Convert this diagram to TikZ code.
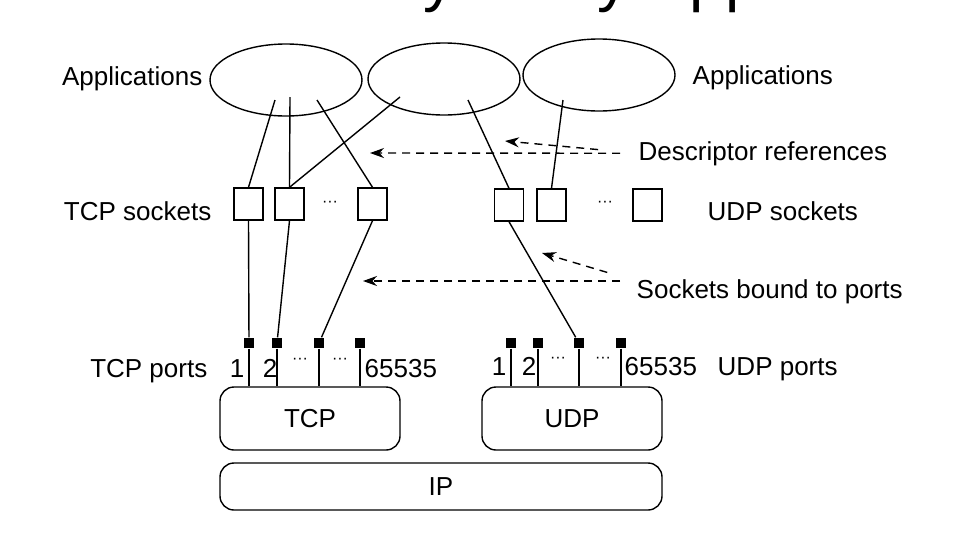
\documentclass[tikz,border=0pt]{standalone}
\usepackage{fontspec}
\setmainfont{Liberation Sans}
\usetikzlibrary{arrows.meta,shapes.geometric}

\begin{document}
\begin{tikzpicture}[x=1pt, y=-1pt, line width=1.4pt, >={Stealth[length=14pt, width=10pt]}, font=\fontsize{26}{30}\selectfont]
	\tikzstyle{app}=[ellipse, draw=black, minimum width=152pt, minimum height=72pt, inner sep=0pt]
	\tikzstyle{socket}=[rectangle, draw=black, minimum width=29pt, minimum height=32pt, inner sep=0pt]
	\tikzstyle{pin}=[rectangle, fill=black, minimum size=10pt, inner sep=0pt]
	\tikzstyle{layer}=[rectangle, draw=black, rounded corners=14pt, inner sep=0pt]
	\tikzstyle{txt}=[inner sep=0pt]
	\tikzstyle{tiny}=[inner sep=0pt, font=\fontsize{16}{16}\selectfont]
	\tikzstyle{ref}=[dash pattern=on 8pt off 6pt]
	\useasboundingbox (0, 0) rectangle (964, 536);
	
	\begin{scope}
	\clip (0, 0) rectangle (964, 14);
	\draw node[txt, anchor=south west, font=\fontsize{64}{72}\selectfont] at (387, 13.5) (title) {by Many Applications};
	\end{scope}
	
	\draw node[app] at (286, 80) (app1) {};
	\draw node[app] at (444, 79) (app2) {};
	\draw node[app] at (599, 75) (app3) {};
	\draw node[txt, anchor=base east] at (203, 85) (lapp1) {Applications};
	\draw node[txt, anchor=base west] at (692, 84) (lapp2) {Applications};
	
	\draw node[socket] at (248.5, 204) (ts1) {};
	\draw node[socket] at (289.5, 204) (ts2) {};
	\draw node[socket] at (372.5, 204) (ts3) {};
	\draw node[tiny] at (330, 204) (tsdots) {···};
	\draw node[socket] at (509, 205) (us1) {};
	\draw node[socket] at (551.5, 205) (us2) {};
	\draw node[socket] at (647.5, 205) (us3) {};
	\draw node[tiny] at (605, 204) (usdots) {···};
	\draw node[txt, anchor=base east] at (212, 220) (lts) {TCP sockets};
	\draw node[txt, anchor=base west] at (707, 220) (lus) {UDP sockets};
	
	\coordinate (a1) at (275, 100);
	\coordinate (a2) at (290, 97);
	\coordinate (a3) at (317, 100);
	\coordinate (a4) at (400, 97);
	\coordinate (a5) at (468, 100);
	\coordinate (a6) at (563, 100);
	\draw (a1) -- (ts1.north);
	\draw (a2) -- (ts2.north);
	\draw (a3) -- (ts3.north);
	\draw (a4) -- (ts2.north);
	\draw (a5) -- (us1.north);
	\draw (a6) -- (us2.north);
	
	\draw node[layer, minimum width=180pt, minimum height=63pt] at (310, 418.5) (tcp) {TCP};
	\draw node[layer, minimum width=180pt, minimum height=63pt] at (572, 418.5) (udp) {UDP};
	\draw node[layer, minimum width=442pt, minimum height=47pt] at (441, 486.5) (ip) {IP};
	
	\draw node[pin] at (249, 343) (tp1) {};
	\draw node[pin] at (277, 343) (tp2) {};
	\draw node[pin] at (319, 343) (tp3) {};
	\draw node[pin] at (360, 343) (tp4) {};
	\draw node[pin] at (511, 343) (up1) {};
	\draw node[pin] at (538, 343) (up2) {};
	\draw node[pin] at (579, 343) (up3) {};
	\draw node[pin] at (621, 343) (up4) {};
	\draw (tp1) -- (tp1 |- tcp.north);
	\draw (tp2) -- (tp2 |- tcp.north);
	\draw (tp3) -- (tp3 |- tcp.north);
	\draw (tp4) -- (tp4 |- tcp.north);
	\draw (up1) -- (up1 |- udp.north);
	\draw (up2) -- (up2 |- udp.north);
	\draw (up3) -- (up3 |- udp.north);
	\draw (up4) -- (up4 |- udp.north);
	
	\draw (ts1.south) -- (tp1);
	\draw (ts2.south) -- (tp2);
	\draw (ts3.south) -- (tp3);
	\draw (us1.south) -- (up3);
	
	\draw node[txt, anchor=base east] at (208, 377) (ltp) {TCP ports};
	\draw node[txt, anchor=base] at (237, 377) (tn1) {1};
	\draw node[txt, anchor=base] at (270, 377) (tn2) {2};
	\draw node[tiny] at (300, 361) (tpdots1) {···};
	\draw node[tiny] at (340, 361) (tpdots2) {···};
	\draw node[txt, anchor=base west] at (364, 377) (tn3) {65535};
	\draw node[txt, anchor=base] at (499, 375) (un1) {1};
	\draw node[txt, anchor=base] at (529, 375) (un2) {2};
	\draw node[tiny] at (558, 360) (updots1) {···};
	\draw node[tiny] at (603, 360) (updots2) {···};
	\draw node[txt, anchor=base west] at (624, 375) (un3) {65535};
	\draw node[txt, anchor=base west] at (717, 375) (lup) {UDP ports};
	
	\draw node[txt, anchor=base west] at (638, 160) (desc) {Descriptor references};
	\coordinate (d1) at (370, 153);
	\coordinate (d2) at (505, 141);
	\draw [->, ref, shorten <=18pt] (desc.west) -- (d1);
	\draw [->, ref, shorten <=40pt] (desc.west) -- (d2);
	
	\draw node[txt, anchor=base west] at (636, 298) (bound) {Sockets bound to ports};
	\coordinate (b1) at (363, 281);
	\coordinate (b2) at (542, 253);
	\draw [->, ref, shorten <=16pt] (bound.west |- b1) -- (b1);
	\draw [->, ref, shorten <=30pt] (bound.west |- b1) -- (b2);
\end{tikzpicture}
\end{document}
